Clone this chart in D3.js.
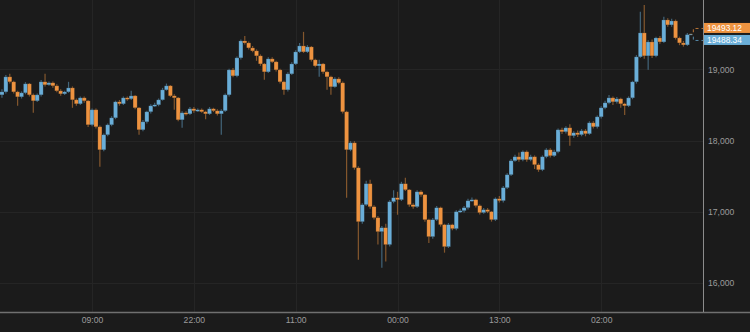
<!DOCTYPE html>
<html>
<head>
<meta charset="utf-8">
<script src="https://cdn.jsdelivr.net/npm/d3@7"></script>
<style>
html, body { margin: 0; padding: 0; background: #1b1b1b; }
svg { display: block; font-family: "Liberation Sans", Arial, sans-serif; }
</style>
</head>
<body>
<svg id="chart" width="750" height="332"></svg>
<script>
// half-hour candles, first one at 21:30
var opens = [
    18642,18684,18895,18825,18684,18614,18670,18797,18642,18558,
    18642,18825,18783,18811,18769,18698,18656,18684,18740,18572,
    18516,18600,18558,18221,18432,18193,17870,18081,18221,18319,
    18544,18516,18600,18586,18628,18460,18151,18263,18404,18488,
    18502,18572,18712,18769,18628,18600,18291,18390,18375,18446,
    18418,18432,18404,18375,18446,18418,18375,18418,18642,18993,
    18909,19162,19400,19372,19302,19260,19190,19077,18965,19148,
    19106,18993,18825,18712,18937,19077,19246,19330,19246,19316,
    19134,19049,19077,18965,18895,18755,18867,18811,18404,17870,
    17968,17617,16859,17098,17393,17070,16915,16719,16775,16537,
    17140,17196,17168,17393,17308,17098,17070,17280,17238,16887,
    16649,16887,17056,16817,16508,16817,16761,17000,17014,17056,
    17154,17168,17084,16986,17028,17000,16887,17182,17154,17337,
    17519,17716,17772,17730,17842,17730,17772,17660,17589,17772,
    17870,17786,17842,18151,18123,18179,18067,18109,18081,18137,
    18095,18249,18193,18333,18460,18530,18600,18544,18586,18516,
    18488,18600,18825,19176,19513,19190,19386,19190,19442,19386,
    19695,19625,19681,19442,19372,19344
];
var highs = [
    18720,18920,18940,18840,18700,18690,18820,18810,18660,18660,
    18850,18937,18830,18830,18790,18720,18700,18825,18760,18590,
    18620,18620,18570,18450,18450,18210,18100,18240,18340,18560,
    18570,18620,18620,18698,18640,18470,18290,18420,18510,18530,
    18590,18740,18800,18780,18650,18610,18410,18410,18470,18470,
    18450,18450,18420,18470,18460,18440,18440,18660,19010,19020,
    19180,19420,19470,19390,19330,19280,19210,19090,19170,19170,
    19120,19010,18840,18960,19100,19270,19370,19527,19340,19330,
    19150,19134,19090,18980,18910,18890,18890,18830,18420,17990,
    17990,17640,17120,17435,17449,17090,16940,16800,16830,17160,
    17300,17280,17420,17477,17320,17120,17300,17300,17250,16900,
    16910,17080,17070,16830,16840,16830,17020,17040,17080,17180,
    17200,17180,17100,17050,17050,17010,17200,17220,17360,17540,
    17740,17800,17830,17860,17860,17800,17790,17680,17790,17890,
    17890,17870,18170,18180,18200,18230,18130,18140,18160,18160,
    18270,18270,18350,18480,18560,18640,18620,18610,18600,18530,
    18620,18840,19200,19810,19906,19410,19420,19460,19470,19740,
    19720,19710,19700,19460,19400,19510
];
var lows = [
    18600,18660,18800,18660,18488,18590,18650,18620,18390,18540,
    18620,18760,18770,18740,18680,18630,18640,18670,18460,18490,
    18500,18530,18190,18200,18170,17631,17850,18060,18200,18300,
    18490,18500,18560,18570,18440,18081,18130,18240,18380,18470,
    18480,18560,18700,18610,18432,18270,18179,18350,18360,18390,
    18400,18390,18300,18360,18400,18350,18081,18400,18620,18890,
    18890,19140,19350,19280,19240,19120,19050,18853,18950,19090,
    18970,18800,18642,18690,18920,19060,19230,19230,19230,19110,
    19030,18895,18940,18712,18642,18740,18790,18380,17196,17850,
    17590,16326,16830,17080,17040,16890,16537,16213,16298,16510,
    17120,16957,17150,17290,17070,17040,17050,17210,16860,16560,
    16620,16870,16790,16424,16490,16740,16740,16980,16990,17030,
    17140,17060,16960,16970,16980,16860,16870,17130,17130,17320,
    17500,17700,17700,17710,17700,17710,17600,17560,17570,17750,
    17760,17770,17820,18090,18100,17926,18040,18050,18060,18060,
    18080,18170,18170,18310,18440,18510,18500,18520,18460,18360,
    18470,18580,18800,19160,19150,18993,19160,19170,19360,19370,
    19600,19600,19420,19340,19320,19330
];
var closes = [
    18684,18895,18825,18684,18614,18670,18797,18642,18558,18642,
    18825,18783,18811,18769,18698,18656,18684,18740,18572,18516,
    18600,18558,18221,18432,18193,17870,18081,18221,18319,18544,
    18516,18600,18586,18628,18460,18151,18263,18404,18488,18502,
    18572,18712,18769,18628,18600,18291,18390,18375,18446,18418,
    18432,18404,18375,18446,18418,18375,18418,18642,18993,18909,
    19162,19400,19372,19302,19260,19190,19077,18965,19148,19106,
    18993,18825,18712,18937,19077,19246,19330,19246,19316,19134,
    19049,19077,18965,18895,18755,18867,18811,18404,17870,17968,
    17617,16859,17098,17393,17070,16915,16719,16775,16537,17140,
    17196,17168,17393,17308,17098,17070,17280,17238,16887,16649,
    16887,17056,16817,16508,16817,16761,17000,17014,17056,17154,
    17168,17084,16986,17028,17000,16887,17182,17154,17337,17519,
    17716,17772,17730,17842,17730,17772,17660,17589,17772,17870,
    17786,17842,18151,18123,18179,18067,18109,18081,18137,18095,
    18249,18193,18333,18460,18530,18600,18544,18586,18516,18488,
    18600,18825,19176,19513,19190,19386,19190,19442,19386,19695,
    19625,19681,19442,19372,19344,19488.34
];

var tickTimes = ["2018-01-16T09:00", "2018-01-16T22:00", "2018-01-17T11:00",
                 "2018-01-18T00:00", "2018-01-18T13:00", "2018-01-19T02:00"];
var priceTicks = [16000, 17000, 18000, 19000];
var lastPrices = [19493.12, 19488.34];   // orange, blue

var upColor = "#6aaed8",
    downColor = "#ee9340";

var parse = d3.timeParse("%Y-%m-%dT%H:%M");
var firstCandle = parse("2018-01-15T21:30");

var candles = closes.map(function(c, i) {
    return {
        t: d3.timeMinute.offset(firstCandle, i * 30),
        o: opens[i], h: highs[i], l: lows[i], c: c
    };
});

var plotW = 703, plotH = 312;
var svg = d3.select("#chart");

var x = d3.scaleTime()
    .domain([parse("2018-01-15T21:15"), parse("2018-01-19T15:00")])
    .range([0, plotW]);
var y = d3.scaleLinear()
    .domain([15590, 19975])
    .range([plotH, 0]);

var tickDates = tickTimes.map(parse);

// grid
svg.append("g")
    .selectAll("line.h")
    .data(priceTicks)
    .enter().append("line")
    .attr("x1", 0).attr("x2", plotW)
    .attr("y1", function(d) { return Math.round(y(d)) + 0.5; })
    .attr("y2", function(d) { return Math.round(y(d)) + 0.5; })
    .attr("stroke", "#252525");
svg.append("g")
    .selectAll("line.v")
    .data(tickDates)
    .enter().append("line")
    .attr("y1", 0).attr("y2", plotH)
    .attr("x1", function(d) { return Math.round(x(d)) + 0.5; })
    .attr("x2", function(d) { return Math.round(x(d)) + 0.5; })
    .attr("stroke", "#252525");

// candles
var bw = 4.1;
var g = svg.append("g");
var c = g.selectAll("g.candle")
    .data(candles)
    .enter().append("g");

c.append("line")
    .attr("x1", function(d) { return x(d.t); })
    .attr("x2", function(d) { return x(d.t); })
    .attr("y1", function(d) { return y(d.h); })
    .attr("y2", function(d) { return y(d.l); })
    .attr("stroke", function(d) { return d.c >= d.o ? upColor : downColor; })
    .attr("stroke-opacity", 0.5)
    .attr("stroke-width", 1.2);

c.append("rect")
    .attr("x", function(d) { return x(d.t) - bw / 2; })
    .attr("width", bw)
    .attr("y", function(d) { return y(Math.max(d.o, d.c)); })
    .attr("height", function(d) { return Math.max(1.5, Math.abs(y(d.o) - y(d.c))); })
    .attr("fill", function(d) { return d.c >= d.o ? upColor : downColor; })
    .attr("stroke", "#1b1b1b")
    .attr("stroke-opacity", 0.35)
    .attr("stroke-width", 0.6);

// axes
var xAxis = svg.append("g")
    .attr("transform", "translate(0," + plotH + ")")
    .call(d3.axisBottom(x).tickValues(tickDates)
        .tickFormat(d3.timeFormat("%H:%M")).tickSize(0).tickPadding(5));
xAxis.select(".domain").remove();
xAxis.append("line")
    .attr("x1", 0).attr("x2", 750)
    .attr("y1", 0.5).attr("y2", 0.5)
    .attr("stroke", "#707070").attr("stroke-width", 1.6);

var yAxis = svg.append("g")
    .attr("transform", "translate(" + plotW + ",0)")
    .call(d3.axisRight(y).tickValues(priceTicks)
        .tickFormat(d3.format(",")).tickSize(0).tickPadding(5));
yAxis.select(".domain").remove();
yAxis.append("line")
    .attr("x1", 0.5).attr("x2", 0.5)
    .attr("y1", 0).attr("y2", plotH)
    .attr("stroke", "#8c8c8c");

svg.selectAll(".tick text")
    .attr("fill", "#9c9c9c")
    .style("font-size", "8.6px");

// last price markers
var last = candles[candles.length - 1];
var mid = (y(lastPrices[0]) + y(lastPrices[1])) / 2;
var labelY = [mid - 6, mid + 6];
var labelColors = [downColor, upColor];
var bx = x(last.t) + 6;

lastPrices.forEach(function(p, i) {
    svg.append("path")
        .attr("d", "M" + (x(last.t) + 2) + "," + y(p) + "H" + bx
            + "V" + labelY[i] + "H" + plotW)
        .attr("fill", "none")
        .attr("stroke", labelColors[i])
        .attr("stroke-opacity", 0.75)
        .attr("stroke-dasharray", "3,3");

    svg.append("rect")
        .attr("x", plotW + 1).attr("width", 750 - plotW - 1)
        .attr("y", labelY[i] - 5.5).attr("height", 10)
        .attr("fill", labelColors[i]);

    svg.append("text")
        .attr("x", plotW + 4)
        .attr("y", labelY[i])
        .attr("dy", "0.34em")
        .attr("fill", "#ffffff")
        .style("font-size", "8.4px")
        .text(d3.format(".2f")(p));
});
</script>
</body>
</html>
